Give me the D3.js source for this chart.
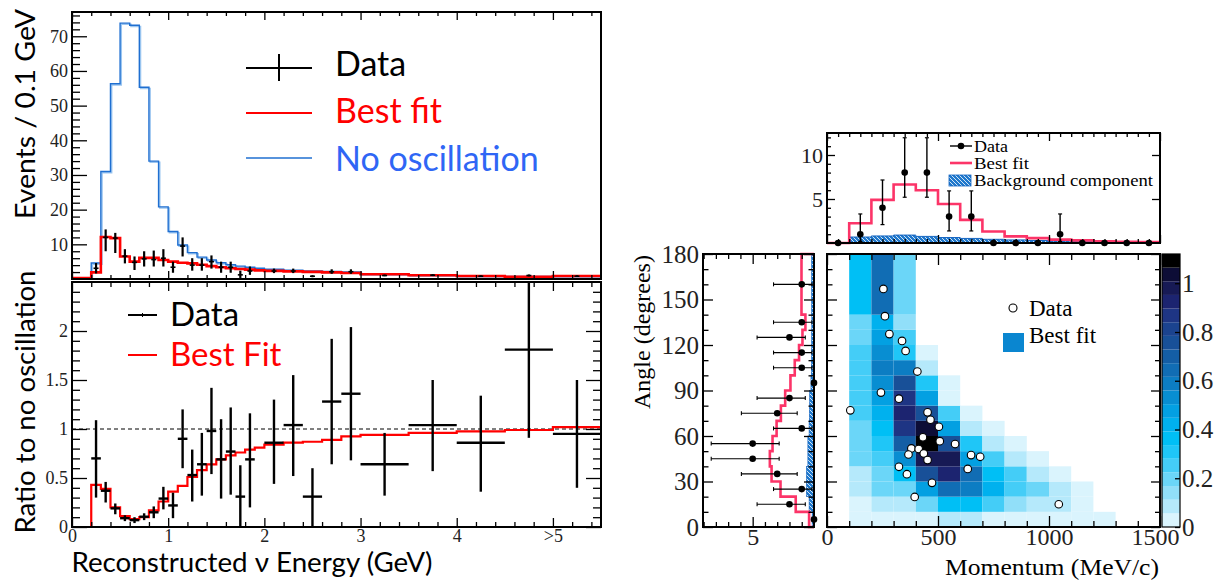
<!DOCTYPE html>
<html>
<head>
<meta charset="utf-8">
<script src="https://cdn.jsdelivr.net/npm/d3@7"></script>
<style>
body { margin: 0; background: #fff; }
svg { display: block; }
</style>
</head>
<body>
<script>
// ---------------- left: energy spectrum + ratio ----------------
const energyEdges = [0, 0.2, 0.3, 0.4, 0.5, 0.6, 0.7, 0.8, 0.9, 1.0, 1.1, 1.2, 1.3, 1.4, 1.5, 1.6, 1.7, 1.8, 1.9, 2.0,
  2.2, 2.4, 2.6, 2.8, 3.0, 3.5, 4.0, 4.5, 5.0, 5.5];
const bestFitEvents = [0.3, 1.9, 12.1, 11.8, 6.5, 5.0, 6.1, 6.1, 5.5, 5.0, 4.7, 4.5, 4.1, 3.7, 3.4, 3.1, 2.9, 2.7, 2.5,
  2.35, 2.2, 2.05, 1.9, 1.75, 1.35, 1.1, 0.85, 0.66, 0.85];
const noOscEvents = [0, 4.6, 31, 56.3, 73.8, 73.2, 55.3, 34, 20.8, 13.7, 9.8, 7.6, 6.3, 5.5, 4.7, 4.1, 3.7, 3.4, 3.1,
  2.8, 2.55, 2.35, 2.15, 2.0, 1.45, 1.15, 0.9, 0.7, 0.85];
const ratioFit = [0, 0.43, 0.39, 0.2, 0.11, 0.08, 0.1, 0.17, 0.26, 0.36, 0.42, 0.51, 0.58, 0.64, 0.69, 0.73, 0.76, 0.79, 0.81,
  0.84, 0.86, 0.87, 0.89, 0.925, 0.94, 0.96, 0.976, 0.99, 1.02];

const evCenter = [0.25, 0.35, 0.45, 0.55, 0.65, 0.75, 0.85, 0.95, 1.05, 1.15, 1.25, 1.35, 1.45, 1.55, 1.65, 1.75, 1.85, 1.95,
  2.1, 2.3, 2.5, 2.7, 2.9, 3.25, 3.75, 4.25, 4.75, 5.25];
const evValue = [3.1, 12, 11.8, 6.6, 4.8, 5.8, 5.6, 6, 3.4, 9.5, 4, 4, 5, 3.4, 3.4, 1.2, 2.3, 0,
  2.3, 2.3, 0.8, 2.1, 2.1, 1.0, 1.1, 0.8, 1.0, 0.8];
const evLo = [1.6, 8, 7.5, 4.5, 2.6, 3.6, 3.6, 3.6, 1.8, 6.5, 2.4, 2.4, 3, 1.8, 1.8, 0.3, 1.2, 0,
  1.7, 1.7, 0.5, 1.5, 1.5, 0.8, 0.85, 0.6, 0.75, 0.6];
const evHi = [4.6, 14.3, 13.3, 8.6, 6.5, 8, 8.2, 8.6, 5, 12, 6, 6, 6.8, 5, 5, 2.4, 3.6, 0,
  3, 3, 1.1, 2.8, 2.8, 1.3, 1.4, 1.05, 1.3, 1.05];

const ratioCenter = [0.25, 0.35, 0.45, 0.55, 0.65, 0.75, 0.85, 0.95, 1.05, 1.15, 1.25, 1.35, 1.45, 1.55, 1.65, 1.75, 1.85,
  2.1, 2.3, 2.5, 2.7, 2.9, 3.25, 3.75, 4.25, 4.75, 5.25];
const ratioValue = [0.70, 0.37, 0.19, 0.09, 0.07, 0.105, 0.15, 0.29, 0.22, 0.90, 0.53, 0.64, 0.98, 0.69, 0.77, 0.31, 0.69,
  0.86, 1.04, 0.31, 1.28, 1.36, 0.64, 1.04, 0.86, 1.81, 0.95];
const ratioLo = [0.30, 0.25, 0.13, 0.06, 0.04, 0.07, 0.09, 0.18, 0.09, 0.6, 0.26, 0.32, 0.54, 0.29, 0.33, 0, 0.20,
  0.44, 0.52, 0, 0.64, 0.68, 0.32, 0.57, 0.36, 0.91, 0.40];
const ratioHi = [1.09, 0.46, 0.24, 0.12, 0.10, 0.14, 0.21, 0.41, 0.35, 1.2, 0.79, 0.96, 1.42, 1.10, 1.22, 0.63, 1.16,
  1.3, 1.55, 0.60, 1.92, 2.04, 0.96, 1.50, 1.34, 2.6, 1.50];

const energyTickLabels = ["0", "1", "2", "3", "4", ">5"];
const ratioTickLabels = ["0", "0.5", "1", "1.5", "2"];

// ---------------- right: momentum / angle ----------------
const momentumEdges = [0, 100, 200, 300, 400, 500, 600, 700, 800, 900, 1000, 1100, 1200, 1300, 1400, 1500];
const angleEdges = [0, 10, 20, 30, 40, 50, 60, 70, 80, 90, 100, 110, 120, 130, 140, 180];

// best fit, one row per angle bin (bottom to top), one entry per momentum bin
const fitGrid = [
  [0, 0.03, 0.03, 0.03, 0.03, 0.09, 0.09, 0.03, 0.03, 0.03, 0.03, 0.03, 0.03, 0, 0],
  [0, 0.03, 0.1, 0.1, 0.2, 0.36, 0.36, 0.25, 0.15, 0.1, 0.1, 0.03, 0, 0, 0],
  [0, 0.1, 0.17, 0.2, 0.5, 0.65, 0.58, 0.42, 0.25, 0.17, 0.1, 0.03, 0, 0, 0],
  [0, 0.1, 0.17, 0.36, 0.78, 0.93, 0.65, 0.36, 0.25, 0.1, 0.03, 0, 0, 0, 0],
  [0, 0.17, 0.25, 0.53, 0.99, 0.98, 0.48, 0.25, 0.1, 0.03, 0, 0, 0, 0, 0],
  [0, 0.17, 0.3, 0.72, 1.1, 0.77, 0.31, 0.1, 0.03, 0, 0, 0, 0, 0, 0],
  [0, 0.22, 0.36, 0.87, 1.05, 0.47, 0.1, 0.03, 0, 0, 0, 0, 0, 0, 0],
  [0, 0.26, 0.42, 0.93, 0.76, 0.25, 0.03, 0, 0, 0, 0, 0, 0, 0, 0],
  [0, 0.26, 0.46, 0.87, 0.47, 0.03, 0, 0, 0, 0, 0, 0, 0, 0, 0],
  [0, 0.26, 0.52, 0.76, 0.31, 0.03, 0, 0, 0, 0, 0, 0, 0, 0, 0],
  [0, 0.26, 0.6, 0.6, 0.09, 0, 0, 0, 0, 0, 0, 0, 0, 0, 0],
  [0, 0.26, 0.53, 0.31, 0.03, 0, 0, 0, 0, 0, 0, 0, 0, 0, 0],
  [0, 0.22, 0.48, 0.25, 0, 0, 0, 0, 0, 0, 0, 0, 0, 0, 0],
  [0, 0.17, 0.42, 0.15, 0, 0, 0, 0, 0, 0, 0, 0, 0, 0, 0],
  [0, 0.36, 0.65, 0.17, 0, 0, 0, 0, 0, 0, 0, 0, 0, 0, 0]
];

const eventMomentum = [254, 261, 281, 338, 354, 407, 243, 324, 105, 453, 466, 504, 432, 508, 577, 380, 413, 367, 436, 453,
  649, 690, 324, 634, 360, 473, 395, 1044];
const eventAngle = [157, 139, 127.2, 122.7, 116.1, 102.5, 88.6, 84.6, 76.9, 75.6, 70.7, 66.1, 59.1, 56.6, 54.7, 51.8, 51.4,
  47.8, 48.5, 44.1, 47.4, 46.3, 39.7, 38.3, 34.8, 29.1, 19.8, 15.0];

const momFit = [0, 2.25, 4.9, 6.65, 6.0, 4.43, 2.63, 1.3, 0.75, 0.55, 0.38, 0.3, 0.2, 0.15, 0.1];
const momBkg = [0, 0.68, 0.8, 0.9, 0.75, 0.62, 0.52, 0.42, 0.35, 0.28, 0.22, 0.18, 0.14, 0.1, 0.08];
const momData = [0, 1, 4, 8, 8, 3, 3, 0, 0, 0, 1, 0, 0, 0, 0];
const momDataLo = [0, 0.17, 2.09, 5.2, 5.2, 1.37, 1.37, 0, 0, 0, 0.17, 0, 0, 0, 0];
const momDataHi = [0, 3.3, 7.16, 11.96, 11.96, 5.92, 5.92, 0, 0, 0, 3.3, 0, 0, 0, 0];

const angFit = [0.4, 1.49, 2.73, 3.46, 3.6, 3.38, 3.05, 2.7, 2.35, 1.92, 1.57, 1.22, 0.94, 0.7, 1.02];
const angBkg = [0.15, 0.4, 0.62, 0.62, 0.5, 0.5, 0.4, 0.38, 0.36, 0.25, 0.22, 0.2, 0.2, 0.18, 0.2];
const angData = [0, 2, 1, 3, 5, 5, 1, 3, 2, 0, 1, 1, 2, 1, 1];
const angDataLo = [0, 0.71, 0.17, 1.37, 2.84, 2.84, 0.17, 1.37, 0.71, 0, 0.17, 0.17, 0.71, 0.17, 0.17];
const angDataHi = [0, 4.64, 3.3, 5.92, 8.38, 8.38, 3.3, 5.92, 4.64, 0, 3.3, 3.3, 4.64, 3.3, 3.3];

const colorTickLabels = ["0", "0.2", "0.4", "0.6", "0.8", "1"];
// colour bar levels, bottom to top
const palette = ["#daf4fd", "#b5e9fb", "#91dff9", "#6bd6f8", "#44cdf7", "#1fc6f7", "#00bff5", "#00b1ee", "#03a0e2",
  "#088ed2", "#0c7dc3", "#116db4", "#145ea5", "#185098", "#1b438f", "#1e3584", "#1c2470", "#171a55", "#0d0d36", "#000000"];

// ------------------------------------------------------------------
const SERIF = "'Liberation Serif', 'DejaVu Serif', serif";
const SANS = "Lato, 'Open Sans', sans-serif";
const PINK = "#fc3468";

const svg = d3.select("body").append("svg")
  .attr("width", 1222).attr("height", 581)
const defs = svg.append("defs")

function stepPts(edges, vals) {
  const pts = [];
  vals.forEach((v, i) => { pts.push([edges[i], v]); pts.push([edges[i + 1], v]); });
  return pts;
}

// inward ticks through d3 axes; labels only where given
function addTicks(g, axisFn, scale, vals, len, pos, fmt, fontSize, pad) {
  const ax = axisFn(scale).tickValues(vals).tickSize(-len).tickPadding(pad === undefined ? 3 : pad)
    .tickFormat(fmt || "");
  const a = g.append("g").attr("transform", pos).call(ax)
    .attr("font-family", SERIF).attr("font-size", fontSize || 18);
  a.select(".domain").remove();
  a.selectAll("line").attr("stroke", "#000").attr("stroke-width", 1.3);
  a.selectAll("text").attr("font-family", SERIF).style("font-family", SERIF)
    .style("font-size", (fontSize || 18) + "px").attr("fill", "#222");
  return a;
}

function clip(id, x, y, w, h) {
  defs.append("clipPath").attr("id", id).append("rect").attr("x", x).attr("y", y).attr("width", w).attr("height", h);
}

// ================= left top: events =================
const xE = d3.scaleLinear().domain([0, 5.5]).range([72, 601]);
const yEv = d3.scaleLinear().domain([0, 77]).range([279, 12]);
const yR = d3.scaleLinear().domain([0, 2.5]).range([527, 282]);

clip("clipTop", 72, 12, 529, 267);
clip("clipBot", 72, 282, 529, 245);

const gTop = svg.append("g")
const pTop = gTop.append("g").attr("clip-path", "url(#clipTop)")
const lineEv = d3.line().x(d => xE(d[0])).y(d => yEv(d[1]));

pTop.append("path").attr("d", lineEv(stepPts(energyEdges, noOscEvents)))
  .attr("transform", "translate(1.2,1.2)")
  .attr("fill", "none").attr("stroke", "#9cc6f0").attr("stroke-width", 1.5)
pTop.append("path").attr("d", lineEv(stepPts(energyEdges, noOscEvents)))
  .attr("fill", "none").attr("stroke", "#1f6fd1").attr("stroke-width", 1.4)
pTop.append("path").attr("d", lineEv(stepPts(energyEdges, bestFitEvents)))
  .attr("fill", "none").attr("stroke", "#ff0000").attr("stroke-width", 2.6)

evCenter.forEach((c, i) => {
  if (evHi[i] > 0) {
    pTop.append("line").attr("x1", xE(c)).attr("x2", xE(c)).attr("y1", yEv(evLo[i])).attr("y2", yEv(evHi[i]))
      .attr("stroke", "#000").attr("stroke-width", 2.2)
  }
  pTop.append("line").attr("x1", xE(c) - 2.5).attr("x2", xE(c) + 2.5).attr("y1", yEv(evValue[i])).attr("y2", yEv(evValue[i]))
    .attr("stroke", "#000").attr("stroke-width", 1.6)
})

gTop.append("rect").attr("x", 72).attr("y", 12).attr("width", 529).attr("height", 267)
  .attr("fill", "none").attr("stroke", "#000").attr("stroke-width", 2)

addTicks(gTop, d3.axisLeft, yEv, d3.range(10, 71, 10), 15, "translate(72,0)", d => d, 18, 4);
addTicks(gTop, d3.axisLeft, yEv, d3.range(2, 77, 2).filter(v => v % 10 !== 0), 8, "translate(72,0)");
addTicks(gTop, d3.axisTop, xE, d3.range(0, 6, 1), 8, "translate(0,12)");
addTicks(gTop, d3.axisTop, xE, d3.range(0.2, 5.5, 0.2).filter(v => Math.abs(v - Math.round(v)) > 0.01), 4, "translate(0,12)");
addTicks(gTop, d3.axisBottom, xE, d3.range(0, 6, 1), 8, "translate(0,279)");
addTicks(gTop, d3.axisBottom, xE, d3.range(0.2, 5.5, 0.2).filter(v => Math.abs(v - Math.round(v)) > 0.01), 4, "translate(0,279)");

gTop.append("text").attr("transform", "translate(35,114) rotate(-90)")
  .attr("text-anchor", "middle").style("font-family", SANS).style("font-size", "27px")
  .attr("textLength", 210).attr("lengthAdjust", "spacingAndGlyphs")
  .text("Events / 0.1 GeV")

// legend
const legTop = gTop.append("g")
legTop.append("line").attr("x1", 246).attr("x2", 312).attr("y1", 68).attr("y2", 68).attr("stroke", "#000").attr("stroke-width", 2)
legTop.append("line").attr("x1", 279).attr("x2", 279).attr("y1", 54).attr("y2", 81).attr("stroke", "#000").attr("stroke-width", 2)
legTop.append("line").attr("x1", 246).attr("x2", 312).attr("y1", 113).attr("y2", 113).attr("stroke", "#ff0000").attr("stroke-width", 2)
legTop.append("line").attr("x1", 246).attr("x2", 312).attr("y1", 158).attr("y2", 158).attr("stroke", "#1f6fd1").attr("stroke-width", 1.5)
legTop.append("text").attr("x", 335).attr("y", 76).text("Data").attr("fill", "#000")
legTop.append("text").attr("x", 335).attr("y", 123).text("Best fit").attr("fill", "#ff0000")
legTop.append("text").attr("x", 335).attr("y", 171).text("No oscillation").attr("fill", "#2f66f5")
legTop.selectAll("text").style("font-family", SANS).style("font-size", "34px")

// ================= left bottom: ratio =================
const gBot = svg.append("g")
const pBot = gBot.append("g").attr("clip-path", "url(#clipBot)")
const lineR = d3.line().x(d => xE(d[0])).y(d => yR(d[1]));

pBot.append("line").attr("x1", xE(0)).attr("x2", xE(5.5)).attr("y1", yR(1)).attr("y2", yR(1))
  .attr("stroke", "#000").attr("stroke-width", 1).attr("stroke-dasharray", "4,3")
pBot.append("path").attr("d", lineR(stepPts(energyEdges, ratioFit)))
  .attr("fill", "none").attr("stroke", "#ff0000").attr("stroke-width", 2.2)

ratioCenter.forEach((c, i) => {
  const b = d3.bisectRight(energyEdges, c) - 1;
  pBot.append("line").attr("x1", xE(c)).attr("x2", xE(c)).attr("y1", yR(ratioLo[i])).attr("y2", yR(ratioHi[i]))
    .attr("stroke", "#000").attr("stroke-width", 2.4)
  pBot.append("line").attr("x1", xE(energyEdges[b])).attr("x2", xE(energyEdges[b + 1]))
    .attr("y1", yR(ratioValue[i])).attr("y2", yR(ratioValue[i]))
    .attr("stroke", "#000").attr("stroke-width", 2.4)
})

gBot.append("rect").attr("x", 72).attr("y", 282).attr("width", 529).attr("height", 245)
  .attr("fill", "none").attr("stroke", "#000").attr("stroke-width", 2)

const rMajor = [0, 0.5, 1, 1.5, 2];
const rMinor = d3.range(0.1, 2.5, 0.1).filter(v => Math.abs(v * 2 - Math.round(v * 2)) > 0.01);
const eMinor = d3.range(0.2, 5.5, 0.2).filter(v => Math.abs(v - Math.round(v)) > 0.01);
addTicks(gBot, d3.axisLeft, yR, rMajor, 15, "translate(72,0)", (d, i) => ratioTickLabels[i], 18, 4);
addTicks(gBot, d3.axisLeft, yR, rMinor, 8, "translate(72,0)");
addTicks(gBot, d3.axisRight, yR, rMajor, 15, "translate(601,0)");
addTicks(gBot, d3.axisRight, yR, rMinor, 8, "translate(601,0)");
addTicks(gBot, d3.axisBottom, xE, d3.range(0, 6, 1), 9, "translate(0,527)", (d, i) => energyTickLabels[i], 18, 2);
addTicks(gBot, d3.axisBottom, xE, eMinor, 5, "translate(0,527)");
addTicks(gBot, d3.axisTop, xE, d3.range(0, 6, 1), 9, "translate(0,282)");
addTicks(gBot, d3.axisTop, xE, eMinor, 5, "translate(0,282)");

gBot.append("text").attr("transform", "translate(35,402) rotate(-90)")
  .attr("text-anchor", "middle").style("font-family", SANS).style("font-size", "27px")
  .attr("textLength", 263).attr("lengthAdjust", "spacingAndGlyphs")
  .text("Ratio to no oscillation")
gBot.append("text").attr("x", 252).attr("y", 572)
  .attr("text-anchor", "middle").style("font-family", SANS).style("font-size", "27px")
  .attr("textLength", 361).attr("lengthAdjust", "spacingAndGlyphs")
  .text("Reconstructed \u03bd Energy (GeV)")

const legBot = gBot.append("g")
legBot.append("line").attr("x1", 128).attr("x2", 157).attr("y1", 315).attr("y2", 315).attr("stroke", "#000").attr("stroke-width", 2)
legBot.append("line").attr("x1", 142.5).attr("x2", 142.5).attr("y1", 313).attr("y2", 317).attr("stroke", "#000").attr("stroke-width", 1)
legBot.append("line").attr("x1", 128).attr("x2", 157).attr("y1", 355).attr("y2", 355).attr("stroke", "#ff0000").attr("stroke-width", 2)
legBot.append("text").attr("x", 170).attr("y", 326).text("Data").attr("fill", "#000")
legBot.append("text").attr("x", 170).attr("y", 366).text("Best Fit").attr("fill", "#ff0000")
legBot.selectAll("text").style("font-family", SANS).style("font-size", "33px")

// ================= right: heat map =================
const xM = d3.scaleLinear().domain([0, 1500]).range([827, 1160]);
const yA = d3.scaleLinear().domain([0, 180]).range([527, 254]);
const yMt = d3.scaleLinear().domain([0, 12.5]).range([243, 133]);
const xAl = d3.scaleLinear().domain([0, 9.05]).range([814, 703]);
const color = d3.scaleQuantize().domain([0, 1.12]).range(palette);

const pat = defs.append("pattern").attr("id", "hatch").attr("patternUnits", "userSpaceOnUse")
  .attr("width", 4).attr("height", 4)
pat.append("rect").attr("width", 4).attr("height", 4).attr("fill", "#1f78cc")
pat.append("path").attr("d", "M-1,-1 L5,5 M-1,3 L1,5 M3,-1 L5,1").attr("stroke", "#fff").attr("stroke-width", 0.8)

const gR = svg.append("g")
fitGrid.forEach((row, r) => {
  row.forEach((v, c) => {
    if (v <= 0) return;
    gR.append("rect")
      .attr("x", xM(momentumEdges[c])).attr("y", yA(angleEdges[r + 1]))
      .attr("width", xM(momentumEdges[c + 1]) - xM(momentumEdges[c]))
      .attr("height", yA(angleEdges[r]) - yA(angleEdges[r + 1]))
      .attr("fill", color(v))
  })
})
gR.selectAll("circle.ev").data(eventMomentum).join("circle").attr("class", "ev")
  .attr("cx", d => xM(d)).attr("cy", (d, i) => yA(eventAngle[i])).attr("r", 3.8)
  .attr("fill", "#fff").attr("stroke", "#000").attr("stroke-width", 1.1)

gR.append("rect").attr("x", 827).attr("y", 254).attr("width", 333).attr("height", 273)
  .attr("fill", "none").attr("stroke", "#000").attr("stroke-width", 2)

const angMajor = [0, 30, 60, 90, 120, 150, 180];
const angMinor = d3.range(10, 180, 10).filter(v => v % 30 !== 0);
const momMajor = [0, 500, 1000, 1500];
addTicks(gR, d3.axisLeft, yA, angMajor, 10, "translate(827,0)");
addTicks(gR, d3.axisLeft, yA, angMinor, 5.5, "translate(827,0)");
addTicks(gR, d3.axisRight, yA, angMajor, 9, "translate(1160,0)");
addTicks(gR, d3.axisRight, yA, angMinor, 5, "translate(1160,0)");
const momLabels = addTicks(gR, d3.axisBottom, xM, momMajor, 11, "translate(0,527)", d => d, 24, 1);
momLabels.selectAll("text").filter(d => d === 1500).attr("dx", -5);
addTicks(gR, d3.axisBottom, xM, d3.range(100, 1500, 100).filter(v => v % 500 !== 0), 6, "translate(0,527)");
addTicks(gR, d3.axisTop, xM, momMajor, 11, "translate(0,254)");
addTicks(gR, d3.axisTop, xM, d3.range(100, 1500, 100).filter(v => v % 500 !== 0), 6, "translate(0,254)");

gR.append("text").attr("x", 1052).attr("y", 575).attr("text-anchor", "middle")
  .style("font-family", SERIF).style("font-size", "23px")
  .attr("textLength", 214).attr("lengthAdjust", "spacingAndGlyphs")
  .text("Momentum (MeV/c)")

// legend in heat map
gR.append("circle").attr("cx", 1013).attr("cy", 308).attr("r", 4).attr("fill", "#fff").attr("stroke", "#000").attr("stroke-width", 1.1)
gR.append("rect").attr("x", 1003).attr("y", 333).attr("width", 21).attr("height", 19).attr("fill", "#0a86d0")
gR.append("text").attr("x", 1029).attr("y", 316).text("Data")
  .style("font-family", SERIF).style("font-size", "23px")
gR.append("text").attr("x", 1029).attr("y", 343).text("Best fit")
  .style("font-family", SERIF).style("font-size", "23px")

// ================= right top: momentum projection =================
const gMt = svg.append("g")
const lineMt = d3.line().x(d => xM(d[0])).y(d => yMt(d[1]));
const areaMt = d3.area().x(d => xM(d[0])).y0(yMt(0)).y1(d => yMt(d[1]));
gMt.append("path").attr("d", areaMt(stepPts(momentumEdges, momBkg))).attr("fill", "url(#hatch)")
gMt.append("path").attr("d", lineMt(stepPts(momentumEdges, momBkg))).attr("fill", "none").attr("stroke", "#1565c0").attr("stroke-width", 1)
gMt.append("path").attr("d", lineMt(stepPts(momentumEdges, momFit))).attr("fill", "none").attr("stroke", PINK).attr("stroke-width", 2.6)

momData.forEach((v, i) => {
  const c = (momentumEdges[i] + momentumEdges[i + 1]) / 2;
  if (momDataHi[i] > 0) {
    gMt.append("line").attr("x1", xM(c)).attr("x2", xM(c)).attr("y1", yMt(momDataLo[i])).attr("y2", yMt(momDataHi[i]))
      .attr("stroke", "#000").attr("stroke-width", 1.4)
    gMt.append("line").attr("x1", xM(c) - 2).attr("x2", xM(c) + 2).attr("y1", yMt(momDataHi[i])).attr("y2", yMt(momDataHi[i]))
      .attr("stroke", "#000").attr("stroke-width", 1.2)
    gMt.append("line").attr("x1", xM(c) - 2).attr("x2", xM(c) + 2).attr("y1", yMt(momDataLo[i])).attr("y2", yMt(momDataLo[i]))
      .attr("stroke", "#000").attr("stroke-width", 1.2)
  }
  gMt.append("circle").attr("cx", xM(c)).attr("cy", yMt(v)).attr("r", 3.3).attr("fill", "#000")
})

gMt.append("rect").attr("x", 827).attr("y", 133).attr("width", 333).attr("height", 110)
  .attr("fill", "none").attr("stroke", "#000").attr("stroke-width", 2)
addTicks(gMt, d3.axisLeft, yMt, [5, 10], 8, "translate(827,0)", d => d, 22, 4);
addTicks(gMt, d3.axisLeft, yMt, d3.range(1, 12.5, 1).filter(v => v % 5 !== 0), 4, "translate(827,0)");
addTicks(gMt, d3.axisRight, yMt, [5, 10], 8, "translate(1160,0)");
addTicks(gMt, d3.axisTop, xM, momMajor, 8, "translate(0,133)");
addTicks(gMt, d3.axisTop, xM, d3.range(50, 1500, 50).filter(v => v % 500 !== 0), 4, "translate(0,133)");
addTicks(gMt, d3.axisBottom, xM, momMajor, 8, "translate(0,243)");
addTicks(gMt, d3.axisBottom, xM, d3.range(50, 1500, 50).filter(v => v % 500 !== 0), 4, "translate(0,243)");

const legMt = gMt.append("g")
legMt.append("line").attr("x1", 950).attr("x2", 972).attr("y1", 146).attr("y2", 146).attr("stroke", "#000").attr("stroke-width", 1.4)
legMt.append("circle").attr("cx", 961).attr("cy", 146).attr("r", 3.3).attr("fill", "#000")
legMt.append("line").attr("x1", 950).attr("x2", 972).attr("y1", 163).attr("y2", 163).attr("stroke", PINK).attr("stroke-width", 2.6)
legMt.append("rect").attr("x", 949).attr("y", 175).attr("width", 22).attr("height", 11).attr("fill", "url(#hatch)")
  .attr("stroke", "#1565c0").attr("stroke-width", 0.8)
legMt.append("text").attr("x", 974).attr("y", 152).attr("textLength", 34).text("Data")
legMt.append("text").attr("x", 974).attr("y", 169).attr("textLength", 55).text("Best fit")
legMt.append("text").attr("x", 974).attr("y", 186).attr("textLength", 179).text("Background component")
legMt.selectAll("text").attr("lengthAdjust", "spacingAndGlyphs")
  .style("font-family", SERIF).style("font-size", "16.5px")

// ================= right left: angle projection =================
const gAl = svg.append("g")
angBkg.forEach((v, i) => {
  gAl.append("rect").attr("x", xAl(v)).attr("y", yA(angleEdges[i + 1]))
    .attr("width", xAl(0) - xAl(v)).attr("height", yA(angleEdges[i]) - yA(angleEdges[i + 1]))
    .attr("fill", "url(#hatch)").attr("stroke", "#1565c0").attr("stroke-width", 0.6)
})
const angPts = [];
angFit.forEach((v, i) => { angPts.push([v, angleEdges[i]]); angPts.push([v, angleEdges[i + 1]]); });
angPts.unshift([0, 0]); angPts.push([0, 180]);
gAl.append("path").attr("d", d3.line().x(d => xAl(d[0])).y(d => yA(d[1]))(angPts))
  .attr("fill", "none").attr("stroke", PINK).attr("stroke-width", 2.6)

angData.forEach((v, i) => {
  const c = (angleEdges[i] + angleEdges[i + 1]) / 2;
  if (angDataHi[i] > 0) {
    gAl.append("line").attr("y1", yA(c)).attr("y2", yA(c)).attr("x1", xAl(angDataLo[i])).attr("x2", xAl(angDataHi[i]))
      .attr("stroke", "#000").attr("stroke-width", 1.2)
    ;[angDataLo[i], angDataHi[i]].forEach(e => {
      gAl.append("line").attr("x1", xAl(e)).attr("x2", xAl(e)).attr("y1", yA(c) - 2).attr("y2", yA(c) + 2)
        .attr("stroke", "#000").attr("stroke-width", 1.1)
    })
  }
  gAl.append("circle").attr("cx", xAl(v)).attr("cy", yA(c)).attr("r", 3.3).attr("fill", "#000")
})

gAl.append("rect").attr("x", 703).attr("y", 254).attr("width", 111).attr("height", 273)
  .attr("fill", "none").attr("stroke", "#000").attr("stroke-width", 2)
addTicks(gAl, d3.axisLeft, yA, angMajor, 10, "translate(703,0)", d => d, 25, 4);
addTicks(gAl, d3.axisLeft, yA, angMinor, 5.5, "translate(703,0)");
addTicks(gAl, d3.axisRight, yA, angMajor, 10, "translate(814,0)");
addTicks(gAl, d3.axisRight, yA, angMinor, 5.5, "translate(814,0)");
addTicks(gAl, d3.axisBottom, xAl, [5], 10, "translate(0,527)", d => d, 24, 1);
addTicks(gAl, d3.axisBottom, xAl, [1, 2, 3, 4, 6, 7, 8, 9], 5, "translate(0,527)");
addTicks(gAl, d3.axisTop, xAl, [5], 10, "translate(0,254)");
addTicks(gAl, d3.axisTop, xAl, [1, 2, 3, 4, 6, 7, 8, 9], 5, "translate(0,254)");

gAl.append("text").attr("transform", "translate(650,332) rotate(-90)").attr("text-anchor", "middle")
  .style("font-family", SERIF).style("font-size", "24px").text("Angle (degrees)")

// ================= colour bar =================
const yC = d3.scaleLinear().domain([0, 1.12]).range([527, 254]);
const gC = svg.append("g")
palette.forEach(c => {
  const [a, b] = color.invertExtent(c);
  gC.append("rect").attr("x", 1162).attr("y", yC(b)).attr("width", 18).attr("height", yC(a) - yC(b)).attr("fill", c)
})
gC.append("rect").attr("x", 1162).attr("y", 254).attr("width", 18).attr("height", 273)
  .attr("fill", "none").attr("stroke", "#000").attr("stroke-width", 1.2)
addTicks(gC, d3.axisRight, yC, [0, 0.2, 0.4, 0.6, 0.8, 1], 5, "translate(1180,0)", (d, i) => colorTickLabels[i], 25, 2);
</script>
</body>
</html>
